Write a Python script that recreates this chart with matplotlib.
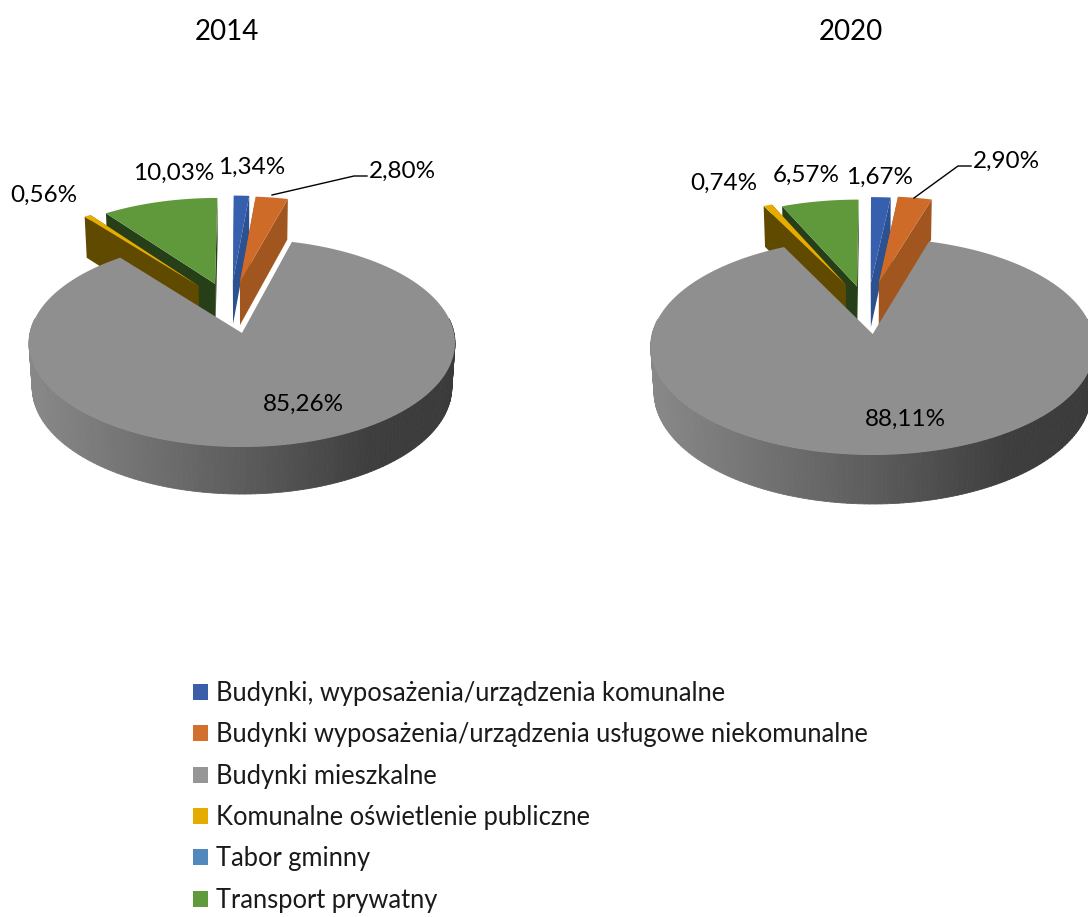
import numpy as np
import matplotlib
matplotlib.use('Agg')
import matplotlib.pyplot as plt
from matplotlib.patches import Polygon, Patch
from matplotlib.collections import PolyCollection

plt.rcParams['font.family'] = ['Lato', 'DejaVu Sans']

# wartosci w %
categories = ['Budynki, wyposażenia/urządzenia komunalne',
              'Budynki wyposażenia/urządzenia usługowe niekomunalne',
              'Budynki mieszkalne',
              'Komunalne oświetlenie publiczne',
              'Tabor gminny',
              'Transport prywatny']
values_2014 = [1.34, 2.80, 85.26, 0.56, 0.0, 10.03]
values_2020 = [1.67, 2.90, 88.11, 0.74, 0.0, 6.57]

top_colors = ['#3660ad', '#cf6b29', '#8f8f8f', '#e6ac00', '#5189bd', '#5f993c']
side_colors = ['#2c5190', '#a1561f', '#5a5a5a', '#604a00', '#3c668c', '#263f18']
legend_colors = ['#3a5fa8', '#d2702d', '#969696', '#e5ac00', '#5189bd', '#5f9a3d']

draw_order = [5, 3, 0, 1, 2]


def wall_color(t):
    # gradient of the outer wall, t=0 left, t=1 right
    stops = [(0.0, 0x88), (0.5, 0x5c), (0.8, 0x3e), (1.0, 0x3a)]
    g = np.interp(t, [s[0] for s in stops], [s[1] for s in stops]) / 255
    return (g, g, g)


def pie3d(ax, values, geo, offsets):
    cx, cy, R, k, p, h, q = geo

    def proj(X, Y, z=0.0):
        w = 1 + p * np.asarray(Y) + q * z
        return cx + R * np.asarray(X) / w, cy - (k * np.asarray(Y) - h * z) / w

    # outer wall of the big slice
    th = np.radians(np.linspace(172, 368, 150))
    polys, cols = [], []
    for a, b in zip(th[:-1], th[1:]):
        xa, ya = proj(np.cos(a), np.sin(a))
        xb, yb = proj(np.cos(b), np.sin(b))
        xc, yc = proj(np.cos(b), np.sin(b), 1)
        xd, yd = proj(np.cos(a), np.sin(a), 1)
        polys.append([(xa, ya), (xb, yb), (xc, yc), (xd, yd)])
        cols.append(wall_color((xa - (cx - R)) / (2 * R)))
    ax.add_collection(PolyCollection(polys, facecolors=cols, edgecolors=cols, linewidths=0.6, zorder=1))

    # angles from values, clockwise from the top
    total = sum(values)
    stops = 90 - np.cumsum([0] + list(values)) / total * 360
    for i in draw_order:
        if values[i] == 0:
            continue
        a1, a2 = np.radians(stops[i]), np.radians(stops[i + 1])
        dx, dy = offsets[i]
        t = np.linspace(a1, a2, 200)
        X = np.r_[dx, dx + np.cos(t)]
        Y = np.r_[dy, dy + np.sin(t)]
        sx, sy = proj(X, Y)
        if i != 2:
            # cut faces
            for a in (a1, a2):
                fx, fy = proj(np.array([dx, dx + np.cos(a)]), np.array([dy, dy + np.sin(a)]))
                bx, by = proj(np.array([dx, dx + np.cos(a)]), np.array([dy, dy + np.sin(a)]), 1)
                ax.add_patch(Polygon([(fx[0], fy[0]), (fx[1], fy[1]), (bx[1], by[1]), (bx[0], by[0])],
                                     fc=side_colors[i], ec='none', zorder=2 + draw_order.index(i)))
        ax.add_patch(Polygon(np.c_[sx, sy], fc=top_colors[i], ec='none', zorder=2.5 + draw_order.index(i)))


fig = plt.figure(figsize=(10.88, 9.17), dpi=100)
ax = fig.add_axes([0, 0, 1, 1])
ax.set_xlim(0, 1088)
ax.set_ylim(917, 0)
ax.axis('off')

pie3d(ax, values_2014, (242, 333, 212, 103, 0.096, 45, 0.015),
      [(-0.045, 0.53), (-0.01, 0.52), (0, 0), (-0.215, 0.48), (0, 0), (-0.133, 0.50)])
pie3d(ax, values_2020, (872.7, 334, 220.5, 107, 0.115, 46, 0.015),
      [(-0.009, 0.50), (0.03, 0.51), (0, 0), (-0.13, 0.49), (0, 0), (-0.075, 0.468)])

ax.text(227, 32, '2014', ha='center', va='center', fontsize=20)
ax.text(851, 32, '2020', ha='center', va='center', fontsize=20)


def pct(v):
    return f'{v:.2f}%'.replace('.', ',')


label_pos_2014 = [(252, 167), (402, 171), (303, 404), (44, 195), None, (174, 173)]
label_pos_2020 = [(880, 177), (1006, 161), (905, 419), (724, 183), None, (806, 175)]
for vals, pos in ((values_2014, label_pos_2014), (values_2020, label_pos_2020)):
    for v, xy in zip(vals, pos):
        if xy is not None:
            ax.text(xy[0], xy[1], pct(v), ha='center', va='center', fontsize=17.5, zorder=20)

ax.plot([272, 354, 367], [195, 176, 176], color='black', lw=1, zorder=20)
ax.plot([914, 958, 971], [198, 166, 166], color='black', lw=1, zorder=20)

handles = [Patch(fc=c, ec='none') for c in legend_colors]
ax.legend(handles, categories, loc='upper left', bbox_to_anchor=(193 / 1088, 1 - 681 / 917),
          frameon=False, fontsize=18.4, handlelength=0.585, handleheight=0.585, handletextpad=0.31,
          labelspacing=0.64, borderpad=0, borderaxespad=0, labelcolor='#1a1a1a')

fig.savefig('out.png', dpi=100)
